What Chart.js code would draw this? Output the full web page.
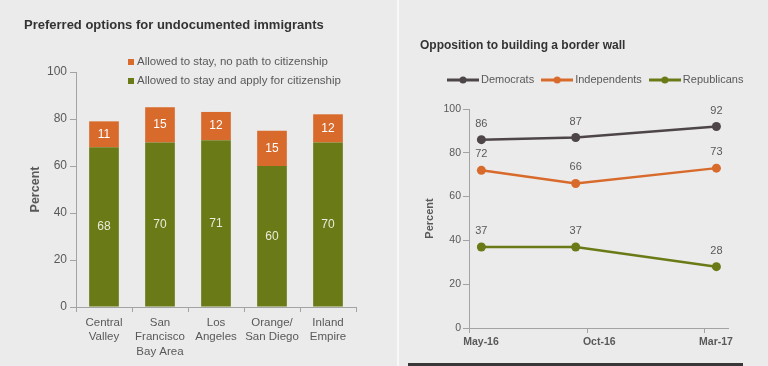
<!DOCTYPE html>
<html><head><meta charset="utf-8">
<script src="https://cdn.jsdelivr.net/npm/chart.js@4.4.1/dist/chart.umd.min.js"></script>
<style>
html,body{margin:0;padding:0;background:#ebebeb;width:768px;height:366px;overflow:hidden}
#l{position:absolute;left:0;top:0;width:397px;height:366px}
#r{position:absolute;left:399px;top:0;width:369px;height:366px}
#sep{position:absolute;left:397px;top:0;width:2px;height:366px;background:#f8f8f8}
#foot{position:absolute;left:408px;top:363px;width:335px;height:3px;background:#383838}
</style></head><body>
<div id="l"><canvas id="c1"></canvas></div>
<div id="sep"></div>
<div id="r"><canvas id="c2"></canvas></div>
<div id="foot"></div>
<script>
// ---- Left chart data ----
const regions = [['Central','Valley'],['San','Francisco','Bay Area'],['Los','Angeles'],['Orange/','San Diego'],['Inland','Empire']];
const stayCitizenship = [68,70,71,60,70];
const stayNoPath = [11,15,12,15,12];
const barSeriesNames = ['Allowed to stay, no path to citizenship','Allowed to stay and apply for citizenship'];
const barTitle = 'Preferred options for undocumented immigrants';

// ---- Right chart data ----
const surveyDates = ['2016-05-17','2016-09-16','2017-03-17'];
const democrats = [86,87,92];
const independents = [72,66,73];
const republicans = [37,37,28];
const lineSeriesNames = ['Democrats','Independents','Republicans'];
const dateTickValues = ['2016-05-01','2016-10-01','2017-03-01'];
const dateTickLabels = ['May-16','Oct-16','Mar-17'];
const dateAxisRange = ['2016-05-01','2017-04-01'];
const lineTitle = 'Opposition to building a border wall';

const GREEN = '#6a7a16', ORANGE = '#d86a2b', DARK = '#4d4547';
const TEXT = '#595959', AXIS = '#a3a3a3', FONT = "'Liberation Sans', Arial, sans-serif";
const day = s => Date.parse(s) / 86400000;

Chart.defaults.font.family = FONT;
Chart.defaults.color = TEXT;

// ---------- Left: stacked bars ----------
const leftDecor = {
  id: 'leftDecor',
  afterDraw(chart) {
    const ctx = chart.ctx;
    ctx.save();
    ctx.fillStyle = '#333';
    ctx.font = 'bold 13px ' + FONT;
    ctx.textBaseline = 'middle';
    ctx.textAlign = 'left';
    ctx.fillText(barTitle, 24, 25);
    // legend
    const cols = [ORANGE, GREEN];
    ctx.font = '11.5px ' + FONT;
    barSeriesNames.forEach((n, i) => {
      const y = 62 + i * 19;
      ctx.fillStyle = cols[i];
      ctx.fillRect(128, y - 3, 6, 6);
      ctx.fillStyle = TEXT;
      ctx.fillText(n, 137, y);
    });
    // value labels
    ctx.textAlign = 'center';
    ctx.font = '12px ' + FONT;
    chart.data.datasets.forEach((ds, di) => {
      const meta = chart.getDatasetMeta(di);
      meta.data.forEach((el, j) => {
        ctx.fillStyle = di === 0 ? '#ecebdc' : '#ffffff';
        ctx.fillText(String(ds.data[j]), el.x, (el.y + el.base) / 2);
      });
    });
    ctx.restore();
  }
};

new Chart(document.getElementById('c1'), {
  type: 'bar',
  data: {
    labels: regions,
    datasets: [
      { label: barSeriesNames[1], data: stayCitizenship, backgroundColor: GREEN },
      { label: barSeriesNames[0], data: stayNoPath, backgroundColor: ORANGE }
    ]
  },
  options: {
    responsive: true, maintainAspectRatio: false, animation: false, devicePixelRatio: 1,
    layout: { padding: { left: 24, right: 41, top: 72, bottom: 0 } },
    plugins: { legend: { display: false }, title: { display: false }, tooltip: { enabled: false } },
    datasets: { bar: { barPercentage: 0.53, categoryPercentage: 1 } },
    scales: {
      x: {
        stacked: true,
        grid: { drawOnChartArea: false, drawTicks: true, tickLength: 5, color: AXIS, offset: true },
        border: { color: AXIS },
        ticks: { color: TEXT, font: { size: 11.5, lineHeight: 1.28 }, padding: 3, maxRotation: 0, autoSkip: false },
        afterFit: s => { s.height = 59; }
      },
      y: {
        stacked: true, min: 0, max: 100,
        grid: { drawOnChartArea: false, drawTicks: true, tickLength: 6, color: AXIS },
        border: { color: AXIS },
        ticks: { stepSize: 20, color: TEXT, font: { size: 12 }, padding: 3 },
        title: { display: true, text: 'Percent', color: TEXT, font: { size: 12.5, weight: 'bold' }, padding: { top: 4, bottom: 0 } },
        afterFit: s => { s.width = 52; }
      }
    }
  },
  plugins: [leftDecor]
});

// ---------- Right: lines ----------
function legendMarker(color) {
  const c = document.createElement('canvas');
  c.width = 32; c.height = 10;
  const g = c.getContext('2d');
  g.strokeStyle = color; g.lineWidth = 3;
  g.beginPath(); g.moveTo(0, 5); g.lineTo(32, 5); g.stroke();
  g.fillStyle = color;
  g.beginPath(); g.arc(16, 5, 3.5, 0, Math.PI * 2); g.fill();
  return c;
}
const lineColors = [DARK, ORANGE, GREEN];
const lineValues = [democrats, independents, republicans];

const rightDecor = {
  id: 'rightDecor',
  afterDraw(chart) {
    const ctx = chart.ctx;
    ctx.save();
    ctx.fillStyle = '#333';
    ctx.font = 'bold 12px ' + FONT;
    ctx.textBaseline = 'middle';
    ctx.textAlign = 'left';
    ctx.fillText(lineTitle, 21, 46);
    // legend
    ctx.font = '11px ' + FONT;
    let x = 48;
    lineSeriesNames.forEach((n, i) => {
      ctx.drawImage(legendMarker(lineColors[i]), x, 75);
      ctx.fillStyle = TEXT;
      ctx.fillText(n, x + 34, 80);
      x += 34 + ctx.measureText(n).width + 7;
    });
    // point labels
    ctx.textAlign = 'center';
    ctx.font = '11px ' + FONT;
    ctx.fillStyle = TEXT;
    chart.data.datasets.forEach((ds, di) => {
      chart.getDatasetMeta(di).data.forEach((el, j) => {
        ctx.fillText(String(ds.data[j].y), el.x, el.y - 16);
      });
    });
    ctx.restore();
  }
};

new Chart(document.getElementById('c2'), {
  type: 'line',
  data: {
    datasets: lineSeriesNames.map((n, i) => ({
      label: n,
      data: surveyDates.map((d, j) => ({ x: day(d), y: lineValues[i][j] })),
      borderColor: lineColors[i], backgroundColor: lineColors[i],
      borderWidth: 2.5, pointRadius: 4.5, pointBackgroundColor: lineColors[i], pointBorderWidth: 0,
      tension: 0, clip: false
    }))
  },
  options: {
    responsive: true, maintainAspectRatio: false, animation: false, devicePixelRatio: 1,
    layout: { padding: { left: 20, right: 40, top: 109, bottom: 0 } },
    plugins: { legend: { display: false }, title: { display: false }, tooltip: { enabled: false } },
    scales: {
      x: {
        type: 'linear', min: day(dateAxisRange[0]), max: day(dateAxisRange[1]),
        afterBuildTicks: s => { s.ticks = dateTickValues.map(d => ({ value: day(d) })); },
        grid: { drawOnChartArea: false, drawTicks: true, tickLength: 5, color: AXIS },
        border: { color: AXIS },
        ticks: { color: TEXT, font: { size: 10.5, weight: 'bold' }, padding: 3, maxRotation: 0, autoSkip: false,
                 labelOffset: 12, callback: (v, i) => dateTickLabels[i] },
        afterFit: s => { s.height = 38; }
      },
      y: {
        min: 0, max: 100,
        grid: { drawOnChartArea: false, drawTicks: true, tickLength: 6, color: AXIS },
        border: { color: AXIS },
        ticks: { stepSize: 20, color: TEXT, font: { size: 10.5 }, padding: 2 },
        title: { display: true, text: 'Percent', color: TEXT, font: { size: 11, weight: 'bold' }, padding: { top: 4, bottom: 0 } },
        afterFit: s => { s.width = 50; }
      }
    }
  },
  plugins: [rightDecor]
});
</script>
</body></html>
